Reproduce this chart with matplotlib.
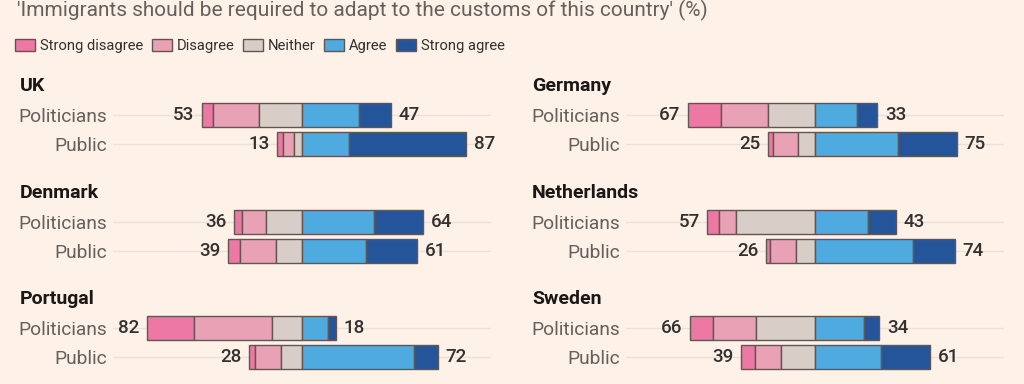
import matplotlib
matplotlib.use("Agg")
import matplotlib.pyplot as plt
from matplotlib.patches import Patch

# ---- data ----
countries = ["UK", "Germany", "Denmark", "Netherlands", "Portugal", "Sweden"]
groups = ["Politicians", "Public"]
categories = ["Strong disagree", "Disagree", "Neither", "Agree", "Strong agree"]

# values per country: [politicians, public], each [SD, D, N, A, SA]
uk = [[6, 24, 23, 30, 17], [3, 6, 4, 25, 62]]
germany = [[17, 25, 25, 22, 11], [3, 13, 9, 44, 31]]
denmark = [[4, 13, 19, 38, 26], [6, 19, 14, 34, 27]]
netherlands = [[6, 9, 42, 28, 15], [2, 14, 10, 52, 22]]
portugal = [[25, 41, 16, 14, 4], [3, 14, 11, 59, 13]]
sweden = [[12, 23, 31, 26, 8], [7, 14, 18, 35, 26]]
values = [uk, germany, denmark, netherlands, portugal, sweden]

# printed totals
neg_totals = [[53, 13], [67, 25], [36, 39], [57, 26], [82, 28], [66, 39]]
pos_totals = [[47, 87], [33, 75], [64, 61], [43, 74], [18, 72], [34, 61]]

title = "'Immigrants should be required to adapt to the customs of this country' (%)"

# ---- style ----
BG = "#fdf1e8"
colors = ["#ec78a3", "#e8a1b5", "#d8cec7", "#4eaadf", "#24559a"]
EDGE = "#615653"
GRID = "#ebe1d8"
LABEL = "#66605c"
NUM = "#33302e"
FONT = ["Roboto", "DejaVu Sans"]
plt.rcParams["font.family"] = FONT

W, H = 1024, 384
fig = plt.figure(figsize=(W / 100, H / 100), dpi=100, facecolor=BG)

def fx(px):
    return px / W

def fy(py):
    return 1 - py / H

fig.text(fx(17), fy(16), title, fontsize=15, color=LABEL, va="baseline", ha="left")

handles = [Patch(facecolor=c, edgecolor=EDGE, linewidth=1.0, label=l)
           for c, l in zip(colors, categories)]
leg = fig.legend(handles=handles, loc="center left", bbox_to_anchor=(fx(15), fy(46)),
                 ncol=5, frameon=False, fontsize=10.6, handlelength=1.35,
                 handleheight=0.95, handletextpad=0.33, columnspacing=0.6,
                 borderpad=0, borderaxespad=0, labelcolor=NUM)

block_step = 106.7
for i, (country, vals) in enumerate(zip(countries, values)):
    col = i % 2
    row = i // 2
    left_px = 113 if col == 0 else 626
    title_x = 20 if col == 0 else 532
    pol_center = 115 + block_step * row
    top_px = pol_center - 14.5
    ax = fig.add_axes([fx(left_px), fy(top_px + 58), fx(378), 58 / H])
    ax.set_facecolor("none")
    ax.set_xlim(-100, 100)
    ax.set_ylim(1.5, -0.5)
    for s in ax.spines.values():
        s.set_visible(False)
    ax.set_xticks([])
    ax.set_yticks(range(len(groups)))
    ax.set_yticklabels(groups, fontsize=13.8, color=LABEL)
    ax.tick_params(axis="y", length=0, pad=4.5)
    for y in range(len(groups)):
        ax.axhline(y, color=GRID, lw=1.0, zorder=0)
        v = vals[y]
        start = -(v[0] + v[1] + v[2])
        lft = start
        for k, w in enumerate(v):
            ax.barh(y, w, left=lft, height=0.83, color=colors[k],
                    edgecolor=EDGE, linewidth=1.0, zorder=2)
            lft += w
        ax.annotate(str(neg_totals[i][y]), xy=(start, y), xytext=(-5.5, 0),
                    textcoords="offset points", ha="right", va="center",
                    fontsize=13.5, color=NUM, fontweight="medium")
        ax.annotate(str(pos_totals[i][y]), xy=(lft, y), xytext=(5.5, 0),
                    textcoords="offset points", ha="left", va="center",
                    fontsize=13.5, color=NUM, fontweight="medium")
    fig.text(fx(title_x), fy(pol_center - 29), country, fontsize=14,
             fontweight="bold", color="#1a1817", va="center", ha="left")

fig.savefig("out.png", dpi=100, facecolor=BG)
